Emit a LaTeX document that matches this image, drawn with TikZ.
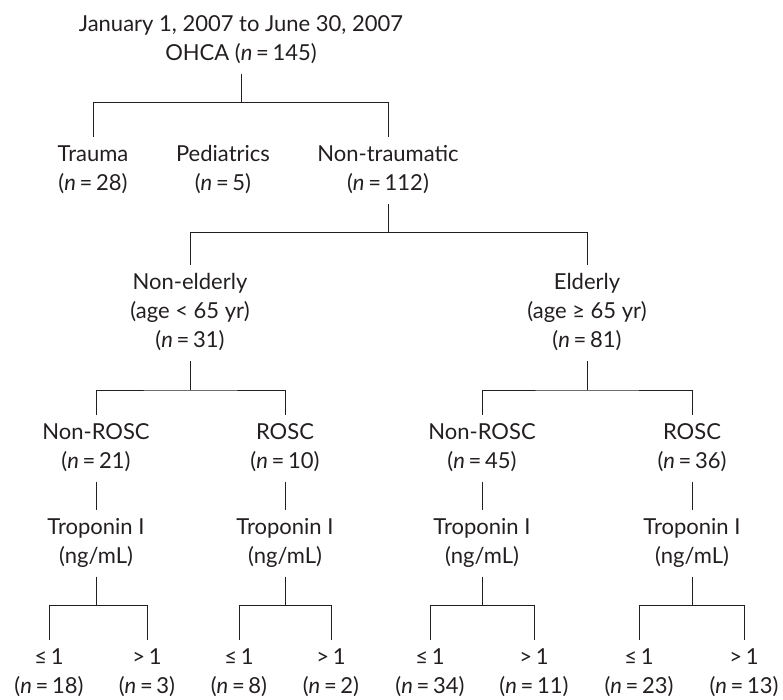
\documentclass[tikz,border=0pt]{standalone}
\usepackage{fontspec}
\setmainfont{Lato}
\usepackage{tikz}
\definecolor{ink}{HTML}{231F20}
\newcommand{\nval}[1]{(\textit{n}\,=\,#1)}

\begin{document}
\begin{tikzpicture}[x=1pt,y=-1pt,
  box/.style={align=center, inner sep=0pt, outer sep=4.5pt, text=ink, font=\fontsize{22}{29}\selectfont},
  link/.style={draw=ink, line width=0.9pt}]
  \useasboundingbox (0,0) rectangle (783,699);
  % top of the tree
  \node[box] (ohca) at (241,40) {\strut January 1, 2007 to June 30, 2007\\\strut OHCA \nval{145}};
  \node[box] (trauma) at (93,170) {\strut Trauma\\\strut\nval{28}};
  \node[box] (pedi) at (223,170) {\strut Pediatrics\\\strut\nval{5}};
  \node[box] (nontr) at (388,170) {\strut Non-traumatic\\\strut\nval{112}};
  \draw[link] (ohca.south) -- ++(0,29) coordinate (j0);
  \draw[link] (trauma.north) |- (j0) -| (nontr.north);
  % age groups
  \node[box] (young) at (190,313) {\strut Non-elderly\\\strut(age < 65 yr)\\\strut\nval{31}};
  \node[box] (old) at (587,313) {\strut Elderly\\\strut(age ≥ 65 yr)\\\strut\nval{81}};
  \draw[link] (nontr.south) -- ++(0,29) coordinate (j1);
  \draw[link] (young.north) |- (j1) -| (old.north);
  % ROSC groups
  \node[box] (nr1) at (96,448) {\strut Non-ROSC\\\strut\nval{21}};
  \node[box] (r1) at (285,448) {\strut ROSC\\\strut\nval{10}};
  \node[box] (nr2) at (482,448) {\strut Non-ROSC\\\strut\nval{45}};
  \node[box] (r2) at (692,448) {\strut ROSC\\\strut\nval{36}};
  \draw[link] (young.south) -- ++(0,29) coordinate (j2);
  \draw[link] (nr1.north) |- (j2) -| (r1.north);
  \draw[link] (old.south) -- ++(0,29) coordinate (j3);
  \draw[link] (nr2.north) |- (j3) -| (r2.north);
  % troponin
  \foreach \g/\x in {nr1/96, r1/285, nr2/482, r2/692} {
    \node[box] (trop-\g) at (\x,543) {\strut Troponin I\\\strut(ng/mL)};
    \draw[link] (\g.south) -- (trop-\g.north);
  }
  % leaves
  \foreach \g/\xa/\xb/\na/\nb in {nr1/49/147/18/3, r1/239/331/8/2, nr2/430/534/34/11, r2/639/744/23/13} {
    \node[box] (lo-\g) at (\xa,673) {\strut≤\,1\\\strut\nval{\na}};
    \node[box] (hi-\g) at (\xb,673) {\strut>\,1\\\strut\nval{\nb}};
    \draw[link] (trop-\g.south) -- ++(0,29) coordinate (j-\g);
    \draw[link] (lo-\g.north) |- (j-\g) -| (hi-\g.north);
  }
\end{tikzpicture}
\end{document}
